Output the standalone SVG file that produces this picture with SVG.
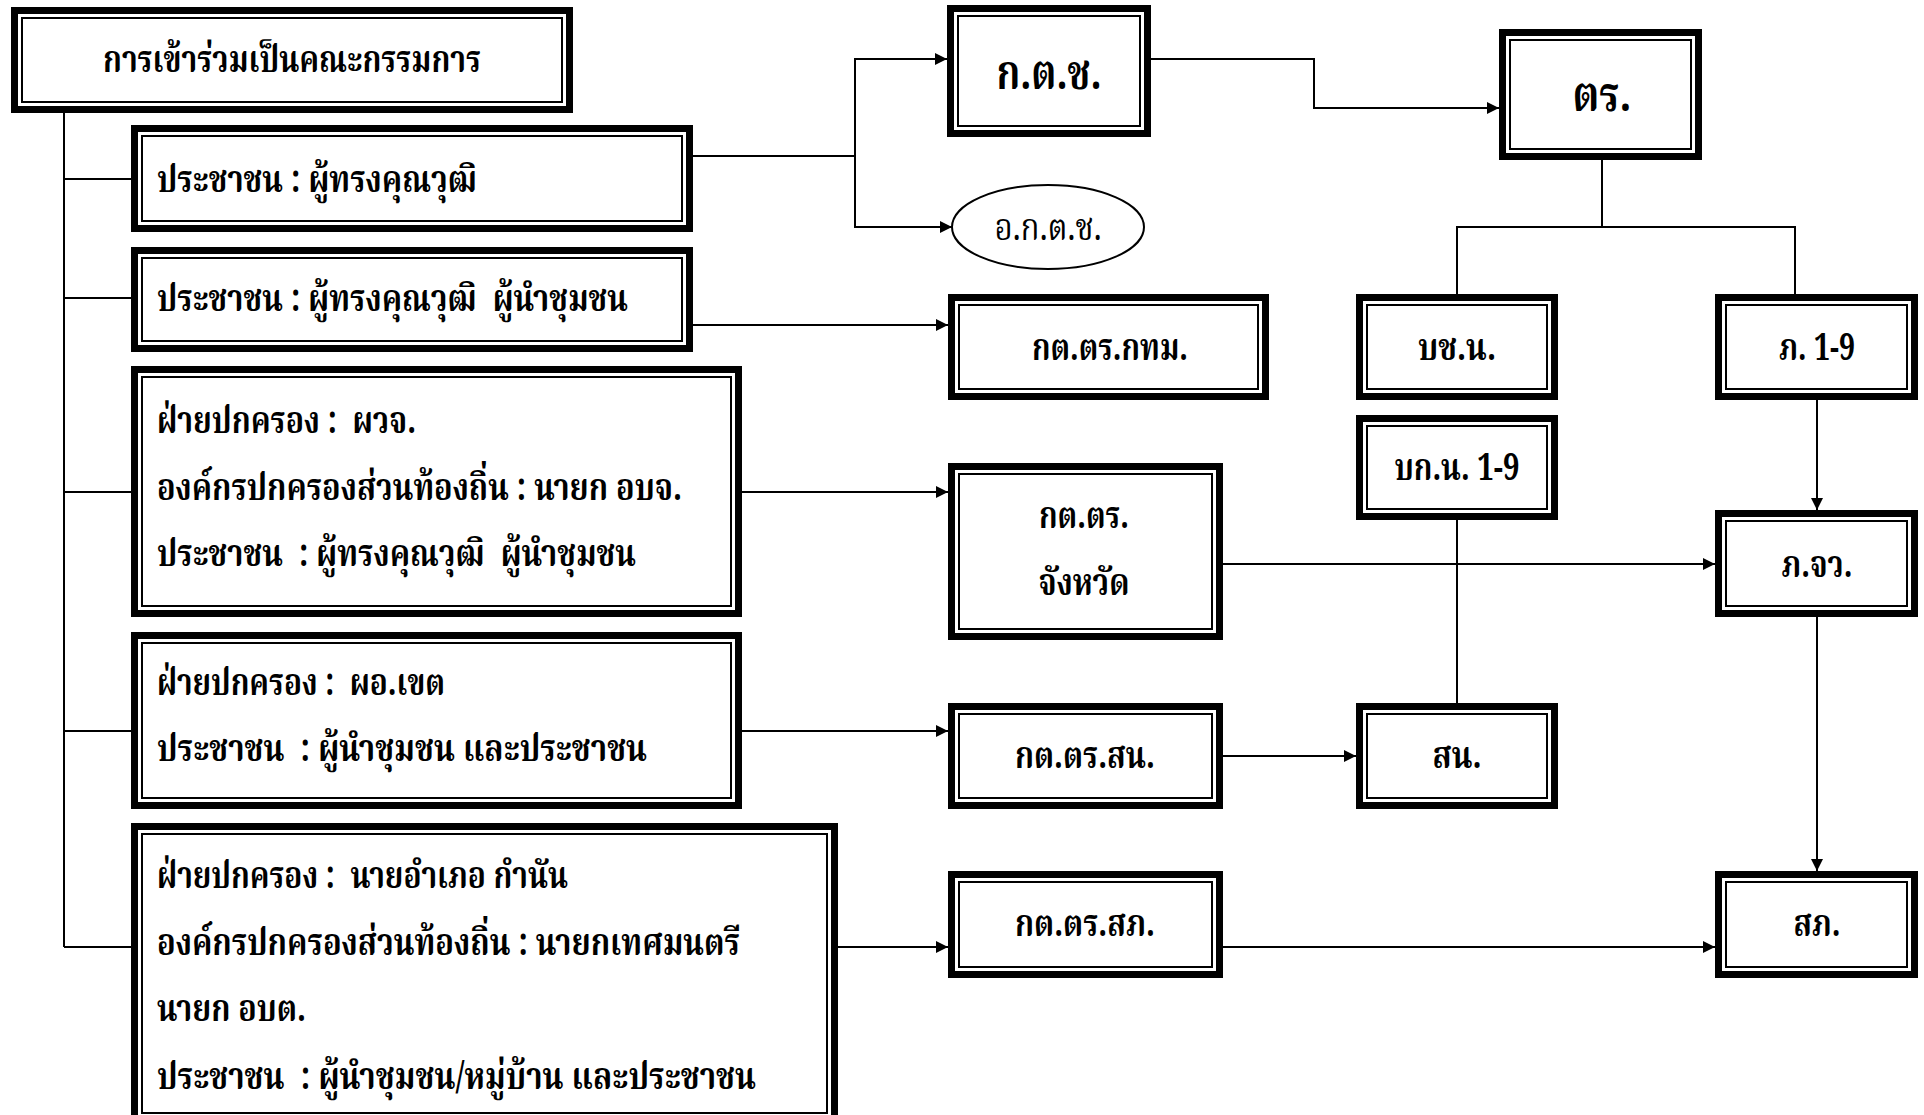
<svg xmlns="http://www.w3.org/2000/svg" width="1924" height="1115" viewBox="0 0 1924 1115">
<defs>
<style>
.o{fill:#fff;stroke:#000;stroke-width:7}
.i{fill:none;stroke:#000;stroke-width:2}
.c{fill:none;stroke:#000;stroke-width:2}
.t{font-family:"Norasi","Noto Serif Thai","Liberation Serif","Noto Sans",serif;font-weight:bold;font-size:38px;fill:#000;white-space:pre}
.m{text-anchor:middle}
.big{font-size:48px}
.n{font-weight:normal}
</style>
<marker id="ar" viewBox="0 0 12 12" refX="12" refY="6" markerWidth="12" markerHeight="12" markerUnits="userSpaceOnUse" orient="auto">
<path d="M0,0 L12,6 L0,12 Z" fill="#000"/>
</marker>
</defs>
<rect width="1924" height="1115" fill="#fff"/>
<g id="connectors">
<path class="c" d="M64,113 V947"/>
<path class="c" d="M64,179 H131"/>
<path class="c" d="M64,298 H131"/>
<path class="c" d="M64,492 H131"/>
<path class="c" d="M64,731 H131"/>
<path class="c" d="M64,947 H131"/>
<path class="c" d="M693,156 H855 V59 H947" marker-end="url(#ar)"/>
<path class="c" d="M855,156 V227 H952" marker-end="url(#ar)"/>
<path class="c" d="M693,325 H948" marker-end="url(#ar)"/>
<path class="c" d="M742,492 H948" marker-end="url(#ar)"/>
<path class="c" d="M742,731 H948" marker-end="url(#ar)"/>
<path class="c" d="M838,947 H948" marker-end="url(#ar)"/>
<path class="c" d="M1151,59 H1314 V108 H1499" marker-end="url(#ar)"/>
<path class="c" d="M1602,160 V227"/>
<path class="c" d="M1457,294 V227 H1795 V294"/>
<path class="c" d="M1457,520 V703"/>
<path class="c" d="M1817,400 V510" marker-end="url(#ar)"/>
<path class="c" d="M1817,617 V871" marker-end="url(#ar)"/>
<path class="c" d="M1223,564 H1715" marker-end="url(#ar)"/>
<path class="c" d="M1223,756 H1356" marker-end="url(#ar)"/>
<path class="c" d="M1223,947 H1715" marker-end="url(#ar)"/>
</g>
<g id="n-committee">
<rect class="o" x="14.5" y="10.5" width="555" height="99"/>
<rect class="i" x="22" y="18" width="540" height="84"/>
<text class="t m" x="292" y="72" textLength="378" lengthAdjust="spacingAndGlyphs">การเข้าร่วมเป็นคณะกรรมการ</text>
</g>
<g id="n-b">
<rect class="o" x="134.5" y="128.5" width="555" height="100"/>
<rect class="i" x="142" y="136" width="540" height="85"/>
<text class="t" x="157" y="192" textLength="320" lengthAdjust="spacingAndGlyphs">ประชาชน : ผู้ทรงคุณวุฒิ</text>
</g>
<g id="n-c">
<rect class="o" x="134.5" y="250.5" width="555" height="98"/>
<rect class="i" x="142" y="258" width="540" height="83"/>
<text class="t" x="157" y="311" textLength="471" lengthAdjust="spacingAndGlyphs">ประชาชน : ผู้ทรงคุณวุฒิ  ผู้นำชุมชน</text>
</g>
<g id="n-d">
<rect class="o" x="134.5" y="369.5" width="604" height="244"/>
<rect class="i" x="142" y="377" width="589" height="229"/>
<text class="t" x="157" y="433" textLength="259" lengthAdjust="spacingAndGlyphs">ฝ่ายปกครอง :  ผวจ.</text>
<text class="t" x="157" y="500" textLength="525" lengthAdjust="spacingAndGlyphs">องค์กรปกครองส่วนท้องถิ่น : นายก อบจ.</text>
<text class="t" x="157" y="566" textLength="479" lengthAdjust="spacingAndGlyphs">ประชาชน  : ผู้ทรงคุณวุฒิ  ผู้นำชุมชน</text>
</g>
<g id="n-e">
<rect class="o" x="134.5" y="635.5" width="604" height="170"/>
<rect class="i" x="142" y="643" width="589" height="155"/>
<text class="t" x="157" y="695" textLength="288" lengthAdjust="spacingAndGlyphs">ฝ่ายปกครอง :  ผอ.เขต</text>
<text class="t" x="157" y="761" textLength="490" lengthAdjust="spacingAndGlyphs">ประชาชน  : ผู้นำชุมชน และประชาชน</text>
</g>
<g id="n-f">
<rect class="o" x="134.5" y="826.5" width="700" height="294"/>
<rect class="i" x="142" y="834" width="685" height="279"/>
<text class="t" x="157" y="888" textLength="411" lengthAdjust="spacingAndGlyphs">ฝ่ายปกครอง :  นายอำเภอ กำนัน</text>
<text class="t" x="157" y="955" textLength="583" lengthAdjust="spacingAndGlyphs">องค์กรปกครองส่วนท้องถิ่น : นายกเทศมนตรี</text>
<text class="t" x="157" y="1021" textLength="149" lengthAdjust="spacingAndGlyphs">นายก อบต.</text>
<text class="t" x="157" y="1089" textLength="599" lengthAdjust="spacingAndGlyphs">ประชาชน  : ผู้นำชุมชน/หมู่บ้าน และประชาชน</text>
</g>
<g id="n-ktc">
<rect class="o" x="950.5" y="8.5" width="197" height="125"/>
<rect class="i" x="958" y="16" width="182" height="110"/>
<text class="t big m" x="1049" y="89" textLength="105" lengthAdjust="spacingAndGlyphs">ก.ต.ช.</text>
</g>
<g id="n-aktc">
<ellipse cx="1048" cy="227" rx="96" ry="42" fill="#fff" stroke="#000" stroke-width="2"/>
<text class="t n m" x="1048" y="240" textLength="107" lengthAdjust="spacingAndGlyphs">อ.ก.ต.ช.</text>
</g>
<g id="n-bkk">
<rect class="o" x="951.5" y="297.5" width="314" height="99"/>
<rect class="i" x="959" y="305" width="299" height="84"/>
<text class="t m" x="1110" y="360" textLength="156" lengthAdjust="spacingAndGlyphs">กต.ตร.กทม.</text>
</g>
<g id="n-tr">
<rect class="o" x="1502.5" y="32.5" width="196" height="124"/>
<rect class="i" x="1510" y="40" width="181" height="109"/>
<text class="t big m" x="1602" y="111" textLength="59" lengthAdjust="spacingAndGlyphs">ตร.</text>
</g>
<g id="n-bcn">
<rect class="o" x="1359.5" y="297.5" width="195" height="99"/>
<rect class="i" x="1367" y="305" width="180" height="84"/>
<text class="t m" x="1457" y="360" textLength="78" lengthAdjust="spacingAndGlyphs">บช.น.</text>
</g>
<g id="n-p19">
<rect class="o" x="1718.5" y="297.5" width="196" height="99"/>
<rect class="i" x="1726" y="305" width="181" height="84"/>
<text class="t m" x="1817" y="360" textLength="76" lengthAdjust="spacingAndGlyphs">ภ. 1-9</text>
</g>
<g id="n-bkn">
<rect class="o" x="1359.5" y="418.5" width="195" height="98"/>
<rect class="i" x="1367" y="426" width="180" height="83"/>
<text class="t m" x="1457" y="480" textLength="125" lengthAdjust="spacingAndGlyphs">บก.น. 1-9</text>
</g>
<g id="n-prov">
<rect class="o" x="951.5" y="466.5" width="268" height="170"/>
<rect class="i" x="959" y="474" width="253" height="155"/>
<text class="t m" x="1084" y="528" textLength="90" lengthAdjust="spacingAndGlyphs">กต.ตร.</text>
<text class="t m" x="1084" y="595" textLength="91" lengthAdjust="spacingAndGlyphs">จังหวัด</text>
</g>
<g id="n-pjw">
<rect class="o" x="1718.5" y="513.5" width="196" height="100"/>
<rect class="i" x="1726" y="521" width="181" height="85"/>
<text class="t m" x="1817" y="577" textLength="71" lengthAdjust="spacingAndGlyphs">ภ.จว.</text>
</g>
<g id="n-ksn">
<rect class="o" x="951.5" y="706.5" width="268" height="99"/>
<rect class="i" x="959" y="714" width="253" height="84"/>
<text class="t m" x="1085" y="768" textLength="140" lengthAdjust="spacingAndGlyphs">กต.ตร.สน.</text>
</g>
<g id="n-sn">
<rect class="o" x="1359.5" y="706.5" width="195" height="99"/>
<rect class="i" x="1367" y="714" width="180" height="84"/>
<text class="t m" x="1457" y="768" textLength="49" lengthAdjust="spacingAndGlyphs">สน.</text>
</g>
<g id="n-ksp">
<rect class="o" x="951.5" y="874.5" width="268" height="100"/>
<rect class="i" x="959" y="882" width="253" height="85"/>
<text class="t m" x="1085" y="936" textLength="140" lengthAdjust="spacingAndGlyphs">กต.ตร.สภ.</text>
</g>
<g id="n-sp">
<rect class="o" x="1718.5" y="874.5" width="196" height="100"/>
<rect class="i" x="1726" y="882" width="181" height="85"/>
<text class="t m" x="1817" y="936" textLength="47" lengthAdjust="spacingAndGlyphs">สภ.</text>
</g>
</svg>
